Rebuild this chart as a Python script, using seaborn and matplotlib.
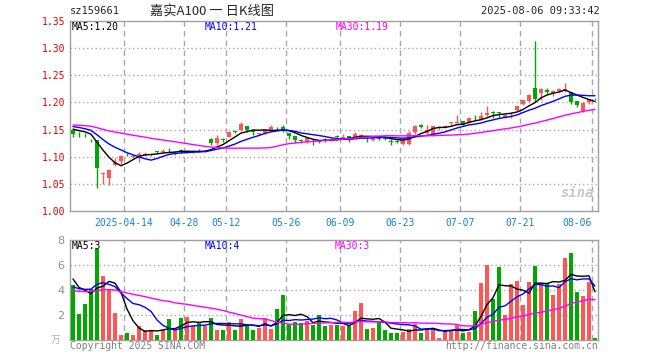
import numpy as np
import pandas as pd
import matplotlib
matplotlib.use("Agg")
import matplotlib.pyplot as plt
import seaborn as sns

# 日K数据 (2025-03-31 ~ 2025-08-06, 88 个交易日)
opens = [1.150, 1.142, 1.142, 1.131, 1.130, 1.069, 1.060, 1.085, 1.092, 1.104,
         1.099, 1.098, 1.104, 1.104, 1.110, 1.109, 1.111, 1.108, 1.112, 1.109,
         1.108, 1.111, 1.110, 1.133, 1.125, 1.132, 1.137, 1.147, 1.149, 1.157,
         1.149, 1.141, 1.143, 1.150, 1.153, 1.154, 1.143, 1.138, 1.130, 1.128,
         1.131, 1.130, 1.132, 1.130, 1.139, 1.133, 1.138, 1.136, 1.136, 1.137,
         1.131, 1.134, 1.137, 1.129, 1.129, 1.123, 1.123, 1.145, 1.159, 1.143,
         1.141, 1.152, 1.153, 1.163, 1.163, 1.165, 1.164, 1.172, 1.170, 1.176,
         1.182, 1.183, 1.173, 1.180, 1.186, 1.197, 1.202, 1.226, 1.217, 1.223,
         1.217, 1.221, 1.221, 1.219, 1.202, 1.184, 1.200, 1.207]
highs = [1.151, 1.145, 1.143, 1.133, 1.130, 1.071, 1.078, 1.097, 1.104, 1.107,
         1.103, 1.108, 1.108, 1.107, 1.111, 1.114, 1.116, 1.111, 1.114, 1.113,
         1.112, 1.114, 1.113, 1.134, 1.140, 1.134, 1.146, 1.148, 1.164, 1.157,
         1.150, 1.144, 1.151, 1.158, 1.155, 1.159, 1.143, 1.138, 1.132, 1.137,
         1.132, 1.131, 1.134, 1.134, 1.140, 1.141, 1.139, 1.145, 1.142, 1.138,
         1.137, 1.137, 1.138, 1.132, 1.130, 1.136, 1.147, 1.159, 1.160, 1.159,
         1.157, 1.156, 1.158, 1.164, 1.176, 1.165, 1.173, 1.176, 1.182, 1.194,
         1.184, 1.183, 1.178, 1.183, 1.194, 1.205, 1.215, 1.313, 1.226, 1.226,
         1.223, 1.226, 1.235, 1.220, 1.203, 1.200, 1.207, 1.208]
lows = [1.137, 1.137, 1.136, 1.127, 1.043, 1.050, 1.048, 1.083, 1.087, 1.101,
        1.097, 1.091, 1.101, 1.102, 1.106, 1.106, 1.108, 1.104, 1.107, 1.106,
        1.106, 1.108, 1.108, 1.122, 1.122, 1.128, 1.136, 1.144, 1.148, 1.145,
        1.140, 1.140, 1.142, 1.149, 1.150, 1.145, 1.133, 1.126, 1.126, 1.125,
        1.122, 1.126, 1.128, 1.129, 1.135, 1.133, 1.128, 1.134, 1.134, 1.128,
        1.129, 1.130, 1.131, 1.122, 1.126, 1.122, 1.122, 1.142, 1.153, 1.142,
        1.138, 1.150, 1.152, 1.158, 1.161, 1.158, 1.163, 1.168, 1.168, 1.175,
        1.172, 1.172, 1.172, 1.172, 1.184, 1.196, 1.200, 1.200, 1.205, 1.215,
        1.212, 1.219, 1.219, 1.197, 1.192, 1.182, 1.198, 1.205]
closes = [1.142, 1.141, 1.141, 1.130, 1.079, 1.070, 1.075, 1.091, 1.102, 1.103,
          1.102, 1.105, 1.105, 1.105, 1.109, 1.110, 1.110, 1.109, 1.111, 1.110,
          1.109, 1.110, 1.111, 1.125, 1.135, 1.131, 1.145, 1.146, 1.160, 1.149,
          1.146, 1.143, 1.149, 1.154, 1.152, 1.147, 1.138, 1.130, 1.129, 1.134,
          1.130, 1.127, 1.131, 1.131, 1.136, 1.137, 1.134, 1.141, 1.140, 1.136,
          1.136, 1.133, 1.133, 1.128, 1.128, 1.131, 1.143, 1.157, 1.154, 1.149,
          1.156, 1.154, 1.157, 1.164, 1.164, 1.160, 1.171, 1.171, 1.175, 1.181,
          1.181, 1.180, 1.177, 1.181, 1.193, 1.204, 1.214, 1.206, 1.225, 1.219,
          1.221, 1.225, 1.225, 1.201, 1.196, 1.199, 1.206, 1.206]
# 成交量 (万)
volumes = [4.43, 2.10, 2.90, 4.08, 7.28, 5.15, 4.03, 2.20, 0.43, 0.60,
           0.43, 1.15, 0.83, 0.77, 0.43, 0.83, 1.70, 0.83, 1.80, 1.85,
           1.10, 1.47, 1.10, 1.80, 0.77, 0.83, 1.47, 0.77, 1.70, 1.15,
           0.83, 1.00, 1.80, 0.90, 2.50, 3.63, 1.30, 1.47, 1.40, 1.55,
           1.20, 1.97, 1.10, 1.20, 1.20, 1.15, 1.10, 2.30, 3.00, 0.90,
           1.00, 1.40, 0.83, 0.60, 0.53, 0.67, 0.90, 1.30, 0.58, 0.96,
           0.96, 0.20, 0.83, 0.83, 1.20, 0.58, 0.67, 2.35, 4.60, 5.97,
           3.30, 5.87, 1.97, 4.50, 4.75, 2.83, 4.67, 5.95, 4.56, 4.56,
           3.63, 4.50, 6.59, 6.99, 3.87, 3.55, 4.67, 0.19]

# 图中看不到的前期数据, 只用来让均线从左边开始
prev_closes = [1.160, 1.162, 1.158, 1.161, 1.163, 1.160, 1.157, 1.159, 1.162, 1.160,
               1.158, 1.161, 1.163, 1.160, 1.158, 1.156, 1.159, 1.161, 1.162, 1.160,
               1.158, 1.163, 1.161, 1.160, 1.159, 1.155, 1.152, 1.151, 1.154]
prev_volumes = [3.2, 4.1, 3.6, 4.4, 3.9, 3.5, 3.1, 4.6, 3.8, 3.3,
                4.0, 3.7, 4.2, 3.6, 3.9, 3.4, 4.3, 3.8, 3.5, 3.7,
                3.6, 3.4, 3.9, 3.4, 3.8, 5.5, 4.0, 5.5, 5.0]

tick_idx = [9, 19, 26, 36, 45, 55, 65, 75, 87]
tick_labels = ["2025-04-14", "04-28", "05-12", "05-26", "06-09",
               "06-23", "07-07", "07-21", "08-06"]
price_ticks = [1.00, 1.05, 1.10, 1.15, 1.20, 1.25, 1.30, 1.35]
vol_ticks = [2, 4, 6, 8]

RED = "#ff5555"
GREEN = "#00a800"
FRAME = "#a0a0a0"

sns.set_style("white")
plt.rcParams['font.family'] = ['DejaVu Sans Mono', 'DejaVu Sans']

df = pd.DataFrame({"open": opens, "high": highs, "low": lows,
                   "close": closes, "vol": volumes})
df["idx"] = np.arange(len(df))
df["dir"] = np.where(df["close"] >= df["open"], "up", "down")
n_prev = len(prev_closes)
c_all = pd.Series(prev_closes + closes)
v_all = pd.Series(prev_volumes + volumes)
for w in (5, 10, 30):
    df[f"ma{w}"] = c_all.rolling(w).mean().iloc[n_prev:].values
    df[f"vma{w}"] = v_all.rolling(w).mean().iloc[n_prev:].values

W, H = 660, 360
fig = plt.figure(figsize=(6.6, 3.6), dpi=100)
ax = fig.add_axes([70 / W, 1 - 211 / H, 528 / W, 190 / H])
ax2 = fig.add_axes([70 / W, 1 - 340 / H, 528 / W, 100 / H])

# K线
col = np.where(df["dir"] == "up", RED, GREEN)
ax.vlines(df["idx"], df["low"], df["high"], colors=col, lw=1, zorder=3)
body = np.maximum((df["close"] - df["open"]).abs(), 0.0008)
ax.bar(df["idx"], body, bottom=np.minimum(df["open"], df["close"]),
       width=0.75, color=col, lw=0, zorder=4)
sns.lineplot(data=df, x="idx", y="ma5", color="black", lw=1, ax=ax, zorder=5)
sns.lineplot(data=df, x="idx", y="ma10", color="#0000ff", lw=1, ax=ax, zorder=5)
sns.lineplot(data=df, x="idx", y="ma30", color="#ff00ff", lw=1, ax=ax, zorder=5)

# 成交量
sns.barplot(data=df, x="idx", y="vol", hue="dir", palette={"up": RED, "down": GREEN},
            native_scale=True, dodge=False, width=0.82, saturation=1, errorbar=None,
            legend=False, ax=ax2, zorder=3, linewidth=0)
sns.lineplot(data=df, x="idx", y="vma5", color="black", lw=1, ax=ax2, zorder=5)
sns.lineplot(data=df, x="idx", y="vma10", color="#0000ff", lw=1, ax=ax2, zorder=5)
sns.lineplot(data=df, x="idx", y="vma30", color="#ff00ff", lw=1, ax=ax2, zorder=5)

grid_x = [i - 0.5 for i in tick_idx]
for a in (ax, ax2):
    a.set_xlim(-0.5, len(df) - 0.5)
    a.set_xlabel("")
    a.set_ylabel("")
    for s in a.spines.values():
        s.set_color(FRAME)
        s.set_linewidth(1)
    for x in grid_x:
        a.axvline(x, color="#a8a8a8", lw=1, ls=(0, (4, 3)), zorder=1)
    a.tick_params(length=0)

ax.set_ylim(1.00, 1.35)
ax.set_yticks(price_ticks)
ax.set_yticklabels([f"{p:.2f}" for p in price_ticks], color="#e00000", fontsize=7)
ax.tick_params(axis="y", pad=3)
for p in price_ticks[1:-1]:
    ax.axhline(p, color="#a8a8a8", lw=1, ls=(0, (1, 2)), zorder=1)
ax.set_xticks(grid_x)
ax.set_xticklabels(tick_labels, color="#1a80d8", fontsize=7)
ax.get_xticklabels()[-1].set_horizontalalignment("right")
ax.tick_params(axis="x", pad=5)

ax2.set_ylim(0, 8)
ax2.set_yticks(vol_ticks)
ax2.set_yticklabels([str(v) for v in vol_ticks], color="#909090", fontsize=8,
                    family="DejaVu Sans")
ax2.tick_params(axis="y", pad=4)
for v in vol_ticks[:-1]:
    ax2.axhline(v, color="#a8a8a8", lw=1, ls=(0, (1, 2)), zorder=1)
ax2.set_xticks([])


def fx(px):
    return px / W


def fy(py):
    return 1 - py / H


# 标题行
fig.text(fx(70), fy(11), "sz159661", fontsize=7.5, va="center")
fig.text(fx(150), fy(11), "嘉实A100 一 日K线图", fontsize=9.5, va="center",
         family=["Noto Sans CJK SC", "DejaVu Sans"])
fig.text(fx(600), fy(11), "2025-08-06 09:33:42", fontsize=7.5, va="center", ha="right")

# 均线数值
fig.text(fx(72), fy(27), "MA5:1.20", fontsize=7, va="center", color="black")
fig.text(fx(205), fy(27), "MA10:1.21", fontsize=7, va="center", color="#0000ff")
fig.text(fx(336), fy(27), "MA30:1.19", fontsize=7, va="center", color="#ff00ff")
fig.text(fx(72), fy(246), "MA5:3", fontsize=7, va="center", color="black")
fig.text(fx(205), fy(246), "MA10:4", fontsize=7, va="center", color="#0000ff")
fig.text(fx(335), fy(246), "MA30:3", fontsize=7, va="center", color="#ff00ff")

# 水印和底部文字
fig.text(fx(577), fy(193), "sina", fontsize=10, ha="center", va="center",
         color="#c8c8c8", style="italic", weight="bold")
fig.text(fx(56), fy(340), "万", fontsize=7, ha="center", va="center", color="#b0b0b0",
         family=["Noto Sans CJK SC", "DejaVu Sans"])
fig.text(fx(70), fy(346), "Copyright 2025 SINA.COM", fontsize=7, va="center", color="#808080")
fig.text(fx(598), fy(346), "http://finance.sina.com.cn", fontsize=7, va="center",
         ha="right", color="#808080")

fig.savefig("out.png", dpi=100, facecolor="white")
